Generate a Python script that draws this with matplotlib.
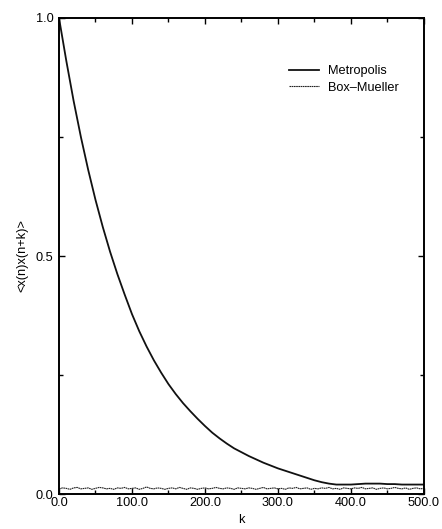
import matplotlib
matplotlib.use("Agg")
import matplotlib.pyplot as plt
from matplotlib.ticker import MultipleLocator, FormatStrFormatter

# Metropolis autocorrelation (step 10 in k)
metro_k = list(range(0, 501, 10))
metro_c = [1.000, 0.910, 0.826, 0.750, 0.681, 0.618, 0.561, 0.509, 0.462, 0.419,
           0.378, 0.342, 0.310, 0.281, 0.255, 0.231, 0.210, 0.191, 0.174, 0.158,
           0.143, 0.129, 0.117, 0.106, 0.096, 0.088, 0.080, 0.073, 0.066, 0.060,
           0.054, 0.049, 0.044, 0.039, 0.034, 0.029, 0.025, 0.022, 0.020, 0.020,
           0.020, 0.021, 0.022, 0.022, 0.022, 0.021, 0.021, 0.020, 0.020, 0.020,
           0.020]

# Box-Mueller autocorrelation (step 5 in k), noisy flat line
box_k = list(range(0, 501, 5))
box_c = [0.011, 0.013, 0.012, 0.010, 0.013, 0.014, 0.011, 0.012, 0.013, 0.010,
         0.012, 0.014, 0.013, 0.011, 0.012, 0.010, 0.013, 0.012, 0.014, 0.011,
         0.012, 0.013, 0.010, 0.012, 0.015, 0.012, 0.011, 0.013, 0.012, 0.010,
         0.012, 0.013, 0.011, 0.014, 0.012, 0.010, 0.013, 0.012, 0.010, 0.012,
         0.013, 0.011, 0.012, 0.014, 0.012, 0.011, 0.013, 0.012, 0.010, 0.013,
         0.012, 0.011, 0.013, 0.012, 0.010, 0.012, 0.014, 0.011, 0.012, 0.013,
         0.011, 0.012, 0.010, 0.013, 0.012, 0.014, 0.011, 0.012, 0.013, 0.010,
         0.012, 0.011, 0.013, 0.012, 0.014, 0.011, 0.012, 0.010, 0.013, 0.012,
         0.011, 0.013, 0.012, 0.014, 0.011, 0.012, 0.013, 0.010, 0.012, 0.013,
         0.011, 0.012, 0.014, 0.012, 0.011, 0.013, 0.010, 0.012, 0.013, 0.011,
         0.012]

plt.rcParams['font.family'] = ['Liberation Sans', 'DejaVu Sans']

fig = plt.figure(figsize=(4.42, 5.29), dpi=100)
ax = fig.add_axes([0.1335, 0.066, 0.8255, 0.900])

ax.plot(metro_k, metro_c, color="#111111", lw=1.3, label="Metropolis")
ax.plot(box_k, box_c, color="#222222", lw=0.8, ls=(0, (1.5, 0.5)), label="Box\u2013Mueller")

ax.set_xlim(0, 500)
ax.set_ylim(0, 1.0)
ax.xaxis.set_major_locator(MultipleLocator(100))
ax.xaxis.set_minor_locator(MultipleLocator(50))
ax.yaxis.set_major_locator(MultipleLocator(0.5))
ax.yaxis.set_minor_locator(MultipleLocator(0.25))
ax.xaxis.set_major_formatter(FormatStrFormatter("%.1f"))
ax.yaxis.set_major_formatter(FormatStrFormatter("%.1f"))
ax.tick_params(which="both", direction="in", top=True, right=True, labelsize=9.2, width=1.0)
ax.tick_params(which="major", length=4, pad=4)
ax.tick_params(axis="x", which="major", pad=2)
ax.tick_params(which="minor", length=3)
for s in ax.spines.values():
    s.set_linewidth(1.4)

ax.set_xlabel("k", fontsize=9.2, labelpad=4)
ax.set_ylabel("<x(n)x(n+k)>", fontsize=9.2, labelpad=5)

ax.legend(loc="upper right", bbox_to_anchor=(0.963, 0.925), frameon=False, fontsize=9.2,
          handlelength=2.4, handletextpad=0.7, labelspacing=0.35)

fig.savefig("out.png", dpi=100)
